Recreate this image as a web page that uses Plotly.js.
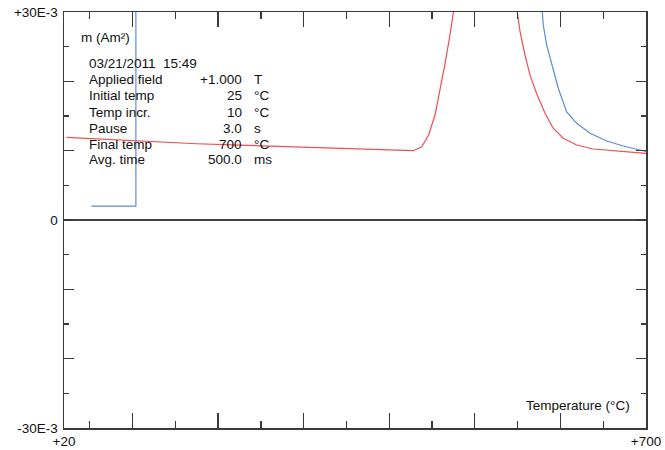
<!DOCTYPE html>
<html>
<head>
<meta charset="utf-8">
<script src="https://cdn.plot.ly/plotly-3.0.1.min.js"></script>
<style>html,body{margin:0;padding:0;background:#fff;}#chart{width:665px;height:450px;}</style>
</head>
<body>
<div id="chart"></div>
<script>
// Temperature (°C) and magnetic moment (units of 1E-3 Am²)
const tempRed = [23, 75, 125, 175, 225, 275, 330, 380, 428, 438, 446, 453.5, 459, 465, 471, 475, 485, 540, 545,
                 549.6, 552.8, 558.6, 564.5, 572.3, 582, 591.7, 603.4, 619, 638.4, 661.8, 689.1, 700];
const momentRed = [11.93, 11.6, 11.25, 11.0, 10.8, 10.58, 10.34, 10.15, 10.0, 10.57, 12.26, 15.14, 18.5, 22.4, 26.7, 30.0, 45, 45, 36,
                   30.0, 27.2, 23.8, 20.9, 18.2, 15.4, 13.2, 11.8, 10.82, 10.24, 9.95, 9.71, 9.6];

const tempBlue = [52, 104, 104, 115, 570, 576, 578.9, 580, 584, 589.8, 597.5, 607.3, 619, 634.6, 654.1, 673.5, 693, 700];
const momentBlue = [2.0, 2.0, 40, 45, 45, 34, 30.0, 28.1, 25.2, 22.4, 19.0, 15.6, 13.95, 12.5, 11.39, 10.67, 10.1, 9.88];

const xTickVals = [20, 100, 200, 300, 400, 500, 600, 700];
const xTickText = ["+20", "", "", "", "", "", "", "+700"];
const yTickVals = [-30, -20, -10, 0, 10, 20, 30];
const yTickText = ["-30E-3", "", "", "0", "", "", "+30E-3"];

const yLabel = "m (Am²)";
const dateLine = "03/21/2011\u00a0\u00a015:49";
const infoLabels = ["Applied field", "Initial temp", "Temp incr.", "Pause", "Final temp", "Avg. time"];
const infoValues = ["+1.000", "25", "10", "3.0", "700", "500.0"];
const infoUnits = ["T", "°C", "°C", "s", "°C", "ms"];
const xLabel = "Temperature (°C)";

const FONT = "'Liberation Sans', Arial, Helvetica, sans-serif";
const axisColor = "#3a3a3a";

const traces = [
  {x: tempRed, y: momentRed, type: "scatter", mode: "lines",
   line: {color: "#ef4f4f", width: 1.2}, hoverinfo: "skip"},
  {x: tempBlue, y: momentBlue, type: "scatter", mode: "lines",
   line: {color: "#5a8fd6", width: 1.2}, hoverinfo: "skip"}
];

const L = 64, T = 12, W = 582, H = 416;
function px(x) { return (x - L) / W; }
function py(y) { return (T + H - y) / H; }

const ann = [];
ann.push({text: yLabel, xref: "paper", yref: "paper", x: px(79), y: py(37), xanchor: "left", yanchor: "middle", showarrow: false});
ann.push({text: dateLine, xref: "paper", yref: "paper", x: px(87), y: py(63.5), xanchor: "left", yanchor: "middle", showarrow: false});
infoLabels.forEach((lab, i) => {
  const yy = py(80 + 16 * i);
  ann.push({text: lab, xref: "paper", yref: "paper", x: px(87), y: yy, xanchor: "left", yanchor: "middle", showarrow: false});
  ann.push({text: infoValues[i], xref: "paper", yref: "paper", x: px(243.5), y: yy, xanchor: "right", yanchor: "middle", showarrow: false});
  ann.push({text: infoUnits[i], xref: "paper", yref: "paper", x: px(251.5), y: yy, xanchor: "left", yanchor: "middle", showarrow: false});
});
ann.push({text: xLabel, xref: "paper", yref: "paper", x: px(632), y: py(405), xanchor: "right", yanchor: "middle", showarrow: false});

const layout = {
  width: 665, height: 450,
  margin: {l: L, r: 665 - L - W, t: T, b: 450 - T - H, pad: 0},
  paper_bgcolor: "#fff", plot_bgcolor: "#fff",
  showlegend: false,
  font: {family: FONT, size: 13.5, color: "#111"},
  xaxis: {
    range: [20, 700], showgrid: false, zeroline: false,
    showline: true, linecolor: axisColor, linewidth: 1.5, mirror: "ticks",
    tickmode: "array", tickvals: xTickVals, ticktext: xTickText,
    ticks: "inside", ticklen: 15, tickwidth: 1.3, tickcolor: axisColor,
    minor: {tick0: 0, dtick: 50, ticks: "inside", ticklen: 7, tickwidth: 1.3, tickcolor: axisColor},
    tickfont: {family: FONT, size: 13.5, color: "#111"},
    fixedrange: true
  },
  yaxis: {
    range: [-30, 30], showgrid: false,
    zeroline: true, zerolinecolor: "#444", zerolinewidth: 1.5,
    showline: true, linecolor: axisColor, linewidth: 1.5, mirror: "ticks",
    tickmode: "array", tickvals: yTickVals, ticktext: yTickText,
    ticks: "inside", ticklen: 10, tickwidth: 1.3, tickcolor: axisColor,
    minor: {tick0: 0, dtick: 5, ticks: "inside", ticklen: 5, tickwidth: 1.3, tickcolor: axisColor},
    tickfont: {family: FONT, size: 13.5, color: "#111"},
    ticklabelstandoff: 2,
    fixedrange: true
  },
  annotations: ann
};

Plotly.newPlot("chart", traces, layout, {staticPlot: true, displayModeBar: false});
</script>
</body>
</html>
